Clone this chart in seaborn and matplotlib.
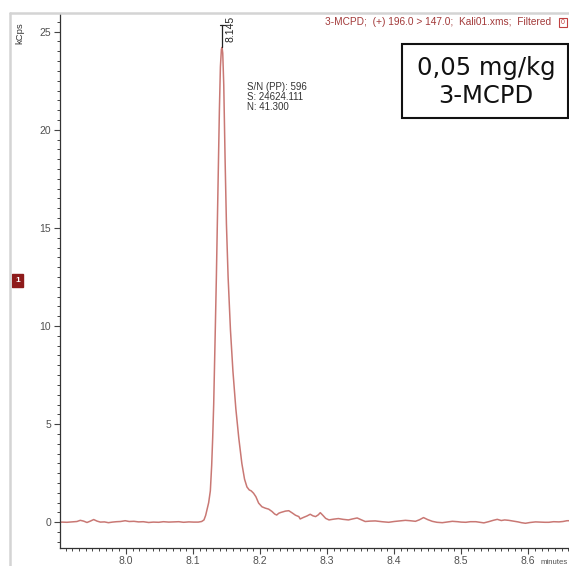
import numpy as np
import pandas as pd
import matplotlib
matplotlib.use('Agg')
import matplotlib.pyplot as plt
from matplotlib.ticker import MultipleLocator
from matplotlib.lines import Line2D
from matplotlib.patches import Rectangle
import seaborn as sns

# Retention time (minutes) and signal (kCps)
times = [7.899, 7.905, 7.912, 7.920, 7.927, 7.932, 7.937, 7.942, 7.947, 7.952,
         7.957, 7.962, 7.968, 7.974, 7.980, 7.986, 7.992, 7.999, 8.005, 8.012,
         8.019, 8.026, 8.034, 8.041, 8.049, 8.056, 8.064, 8.071, 8.079, 8.086,
         8.094, 8.101, 8.108, 8.113, 8.1165, 8.119, 8.121, 8.1235, 8.126, 8.128,
         8.1295, 8.131, 8.132, 8.1335, 8.135, 8.1365, 8.138, 8.1395, 8.141, 8.1425,
         8.1435, 8.1445, 8.146, 8.148, 8.150, 8.1525, 8.156, 8.1597, 8.164, 8.1684,
         8.173, 8.177, 8.1806, 8.184, 8.187, 8.1905, 8.194, 8.198, 8.203, 8.208,
         8.213, 8.218, 8.222, 8.225, 8.228, 8.231, 8.235, 8.238, 8.243, 8.248,
         8.253, 8.258, 8.260, 8.265, 8.270, 8.275, 8.279, 8.283, 8.287, 8.290,
         8.294, 8.298, 8.303, 8.310, 8.317, 8.324, 8.332, 8.338, 8.345, 8.351,
         8.357, 8.364, 8.372, 8.382, 8.392, 8.400, 8.408, 8.417, 8.424, 8.432,
         8.438, 8.444, 8.450, 8.457, 8.464, 8.472, 8.480, 8.487, 8.495, 8.500,
         8.507, 8.514, 8.522, 8.528, 8.534, 8.541, 8.548, 8.554, 8.560, 8.565,
         8.571, 8.578, 8.585, 8.590, 8.596, 8.603, 8.611, 8.618, 8.625, 8.631,
         8.638, 8.646, 8.652, 8.658, 8.662]
kcps = [0.00, 0.01, 0.00, 0.02, 0.04, 0.10, 0.06, -0.01, 0.06, 0.14,
        0.06, 0.01, 0.02, -0.02, 0.01, 0.03, 0.04, 0.08, 0.04, 0.05,
        0.02, 0.03, -0.01, 0.01, 0.00, 0.03, 0.01, 0.02, 0.03, 0.00,
        0.02, 0.01, 0.01, 0.04, 0.12, 0.35, 0.65, 1.0, 1.6, 2.9,
        4.3, 6.0, 7.7, 10.0, 12.5, 15.3, 18.2, 21.0, 23.2, 24.1,
        24.2, 23.9, 22.3, 18.5, 15.2, 12.5, 9.8, 7.7, 5.8, 4.3,
        3.0, 2.2, 1.8, 1.65, 1.6, 1.48, 1.3, 0.98, 0.79, 0.72,
        0.67, 0.55, 0.42, 0.37, 0.46, 0.50, 0.54, 0.57, 0.59, 0.48,
        0.36, 0.29, 0.17, 0.25, 0.32, 0.41, 0.33, 0.29, 0.38, 0.49,
        0.35, 0.20, 0.12, 0.16, 0.19, 0.15, 0.12, 0.17, 0.22, 0.13,
        0.04, 0.06, 0.07, 0.03, 0.00, 0.04, 0.07, 0.10, 0.08, 0.05,
        0.13, 0.24, 0.14, 0.05, 0.00, -0.02, 0.02, 0.05, 0.03, 0.01,
        0.00, 0.03, 0.03, 0.00, -0.03, 0.03, 0.10, 0.15, 0.09, 0.12,
        0.10, 0.06, 0.02, -0.02, -0.05, -0.01, 0.02, 0.01, 0.00, 0.00,
        0.03, 0.02, 0.04, 0.08, 0.08]

peak_rt = 8.1435
peak_height = 24.2
peak_label = "8.145"
title_text = "3-MCPD;  (+) 196.0 > 147.0;  Kali01.xms;  Filtered"
stats_text = "S/N (PP): 596\nS: 24624.111\nN: 41.300"
box_text = "0,05 mg/kg\n3-MCPD"

sns.set_style('white')
plt.rcParams['font.family'] = ['Liberation Sans', 'DejaVu Sans']

W, H = 569, 566
fig = plt.figure(figsize=(W / 100, H / 100), dpi=100)
ax = fig.add_axes([59.5 / W, (H - 548) / H, (W - 59.5) / W, (548 - 14) / H])

df = pd.DataFrame({'minutes': times, 'kCps': kcps})
sns.lineplot(data=df, x='minutes', y='kCps', ax=ax, color='#c97874', lw=1.1)

ax.set_xlim(7.901, 8.661)
ax.set_ylim(-1.31, 25.9)
ax.set_xlabel('')
ax.set_ylabel('')

ax.xaxis.set_major_locator(MultipleLocator(0.1))
ax.xaxis.set_minor_locator(MultipleLocator(0.01))
ax.yaxis.set_major_locator(MultipleLocator(5))
ax.yaxis.set_minor_locator(MultipleLocator(0.5))
ax.xaxis.set_major_formatter(matplotlib.ticker.FormatStrFormatter('%.1f'))
ax.tick_params(which='major', direction='out', length=4, width=0.8, color='#444444',
               labelsize=7.5, labelcolor='#505050', pad=2, left=True, bottom=True)
ax.tick_params(which='minor', direction='out', length=2.2, width=0.7, color='#444444',
               left=True, bottom=True)

for s in ['top', 'right']:
    ax.spines[s].set_visible(False)
for s in ['left', 'bottom']:
    ax.spines[s].set_color('#333333')
    ax.spines[s].set_linewidth(0.9)

# peak marker
ax.plot([peak_rt, peak_rt], [peak_height, 25.33], color='#222222', lw=0.9)
ax.plot([peak_rt - 0.0025, peak_rt + 0.0025], [25.33, 25.33], color='#222222', lw=0.9)
ax.text(8.1555, 25.15, peak_label, rotation=90, ha='center', va='center',
        fontsize=7.5, color='#222222')

ax.text(8.181, 22.45, stats_text, ha='left', va='top', fontsize=7,
        color='#333333', linespacing=1.0)

# outer frame of the report page
fig.add_artist(Line2D([10 / W, 1.0], [1 - 13 / H, 1 - 13 / H], color='#d4d4d4', lw=1.8))
fig.add_artist(Line2D([10 / W, 10 / W], [0, 1 - 13 / H], color='#d4d4d4', lw=1.8))

fig.text(325 / W, 1 - 22 / H, title_text, ha='left', va='center', fontsize=7.3,
         color='#a33a3a')
fig.add_artist(Rectangle((559 / W, 1 - 27 / H), 8 / W, 9 / H, fill=False,
                         edgecolor='#c04040', lw=0.8))
fig.text(563 / W, 1 - 22.5 / H, '0', ha='center', va='center', fontsize=5,
         color='#c04040')

fig.text(20 / W, 1 - 33 / H, 'kCps', rotation=90, ha='center', va='center',
         fontsize=6.8, color='#333333')

fig.add_artist(Rectangle((12 / W, 1 - 287 / H), 11 / W, 13 / H, facecolor='#8e1b1b',
                         edgecolor='#8e1b1b'))
fig.text(17.5 / W, 1 - 280.5 / H, '1', ha='center', va='center', fontsize=6,
         color='white', fontweight='bold')

fig.add_artist(Rectangle((402 / W, 1 - 118 / H), 166 / W, 74 / H, fill=False,
                         edgecolor='#111111', lw=1.5))
fig.text(486 / W, 1 - 82 / H, box_text, ha='center', va='center', fontsize=17.5,
         family='DejaVu Sans', color='#111111', linespacing=1.2)

fig.text(541 / W, 1 - 565.5 / H, 'minutes', ha='left', va='bottom', fontsize=5.6,
         color='#505050')

fig.savefig('out.png', dpi=100)
